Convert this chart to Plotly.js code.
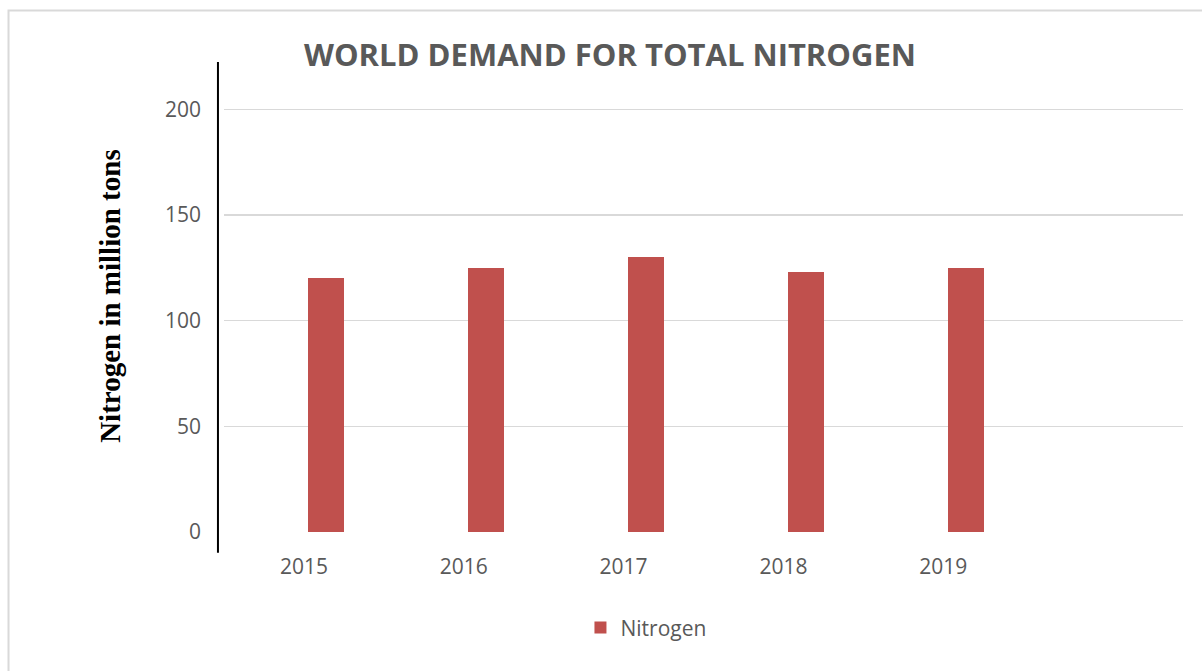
<!DOCTYPE html>
<html>
<head>
<meta charset="utf-8">
<script src="https://cdn.plot.ly/plotly-3.0.1.min.js"></script>
<style>html,body{margin:0;padding:0;background:#fff;}#chart{width:1202px;height:671px;}</style>
</head>
<body>
<div id="chart"></div>
<script>
const years = ["2015", "2016", "2017", "2018", "2019"];
const nitrogen = [120, 125, 130, 123, 125];
const seriesName = "Nitrogen";
const chartTitle = "WORLD DEMAND FOR TOTAL NITROGEN";
const yTitle = "Nitrogen in million tons";
const yTicks = [0, 50, 100, 150, 200];

const txt = "#595959";
const trace = {
  type: "bar",
  x: years,
  y: nitrogen,
  name: seriesName,
  marker: {color: "#C0504D"},
  width: 0.225,
  offset: 0.027,
  hoverinfo: "x+y"
};

const layout = {
  width: 1202, height: 671,
  margin: {l: 224, r: 19, t: 67, b: 138.7},
  paper_bgcolor: "#fff", plot_bgcolor: "#fff",
  font: {family: "Open Sans, sans-serif", color: txt, size: 20},
  title: {
    text: "<b>" + chartTitle + "</b>",
    font: {family: "Open Sans, sans-serif", size: 31, color: txt},
    x: 0.5075, xanchor: "center", y: 0.918, yanchor: "middle", xref: "container", yref: "container"
  },
  xaxis: {
    type: "category",
    range: [-0.5, 5.5],
    showgrid: false, zeroline: false, showline: false,
    ticks: "", ticklabelstandoff: 20,
    tickfont: {size: 21, color: txt}
  },
  yaxis: {
    range: [0, 220],
    tickvals: yTicks,
    showgrid: true, gridcolor: "#D9D9D9", gridwidth: 1.5,
    zeroline: false, showline: false,
    ticks: "", ticklabelstandoff: 22,
    tickfont: {size: 21, color: txt}
  },
  annotations: [
    {text: "<b>" + yTitle + "</b>", xref: "paper", yref: "paper",
     x: (110 - 224) / 959, y: (532.3 - 296) / 465.3, xanchor: "center", yanchor: "middle",
     textangle: -90, showarrow: false,
     font: {family: "Liberation Serif, Times New Roman, serif", size: 29, color: "#000"}}
  ],
  showlegend: true,
  legend: {
    orientation: "h", x: 0.44, xanchor: "center", y: -0.206, yanchor: "middle",
    font: {size: 21, color: txt}, itemwidth: 30
  },
  shapes: [
    {type: "line", xref: "paper", yref: "paper", x0: -0.0063, x1: -0.0063, y0: -0.0445, y1: 1.0107,
     line: {color: "#000", width: 2}},
    {type: "rect", xref: "paper", yref: "paper", x0: -0.2247, x1: 1.1, y0: -0.5, y1: 1.1214,
     line: {color: "#D9D9D9", width: 2}, layer: "below"}
  ],
  bargap: 0
};

Plotly.newPlot("chart", [trace], layout, {displayModeBar: false, staticPlot: true});
</script>
</body>
</html>
